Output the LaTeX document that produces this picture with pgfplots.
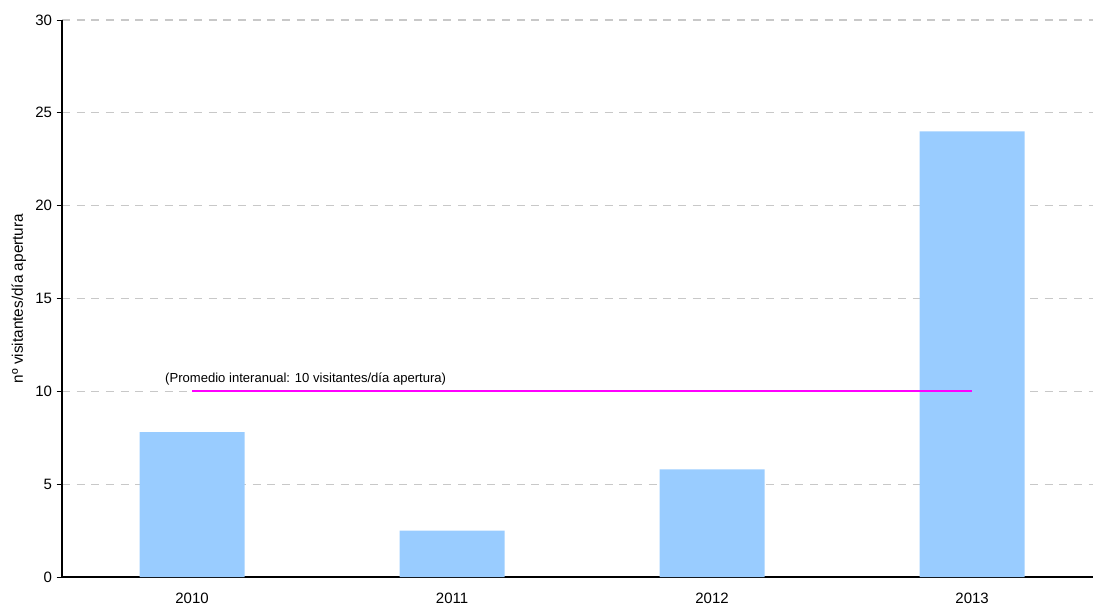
\documentclass[border=0pt]{standalone}
\usepackage{pgfplots}
\pgfplotsset{compat=1.18}
\usepackage{fontspec}
\setmainfont{Liberation Sans}
\definecolor{BarBlue}{RGB}{153,204,255}
\definecolor{AvgPink}{RGB}{255,0,255}
\definecolor{GridGray}{RGB}{200,200,200}

\begin{document}
\begin{tikzpicture}
% 1px of the reference = 0.75pt
\path[use as bounding box] (0,0) rectangle (819.75pt,-455.25pt);

\begin{axis}[
at={(46.5pt,-15pt)},
anchor=north west,
scale only axis,
width=773.25pt,
height=417.75pt,
axis lines=left,
axis line style={black, line width=0.8pt, -},
xmin=-0.5, xmax=3.465,
ymin=0, ymax=30,
ytick={0,5,...,30},
xtick={0,1,2,3},
xticklabels={2010,2011,2012,2013},
x tick style={draw=none},
extra x ticks={-0.5,0.5,1.5,2.5},
extra x tick labels={},
extra x tick style={grid=none, tick style={draw=black, line width=0.6pt}, major tick length=4pt},
y tick style={black, line width=0.6pt},
tick align=outside,
major tick length=4pt,
ymajorgrids=true,
grid style={GridGray, line width=0.8pt, dash pattern=on 6pt off 5pt},
tick label style={font=\fontsize{11.25}{13}\selectfont},
xticklabel style={yshift=-4.5pt},
/pgf/number format/assume math mode=true,
ylabel={nº visitantes/día apertura},
ylabel style={font=\fontsize{11.5}{13}\selectfont},
clip=false,
]

\addplot[ybar, bar width=78.75pt, fill=BarBlue, draw=none]
coordinates {(0,7.8) (1,2.5) (2,5.8) (3,24.0)};

\addplot+[sharp plot, solid, color=AvgPink, line width=1.3pt, mark=none]
coordinates {(0,10) (3,10)};

\node[anchor=base west, inner sep=0pt, font=\fontsize{9.8}{11}\selectfont]
  at (axis cs:-0.104,10.45) {(Promedio interanual: 10 visitantes/día apertura)};

\end{axis}
\end{tikzpicture}
\end{document}
